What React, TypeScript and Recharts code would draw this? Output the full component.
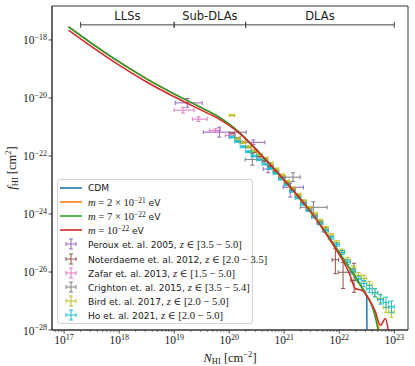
import React from 'react';
import {
  ComposedChart,
  Line,
  Scatter,
  XAxis,
  YAxis,
  ErrorBar,
  ReferenceArea,
  Legend,
  Label,
} from 'recharts';

// all values are log10: [log N_HI, log f]
type Pt = [number, number];
type Err = number | [number, number];
// [log N, log f, dlogN (down, up), dlogf (down, up)]
type DataPt = [number, number, Err, Err];

const cdmCurve: Pt[] = [
  [17.08, -17.55], [17.5, -18.12], [18.0, -18.76], [18.5, -19.34], [19.0, -19.86],
  [19.5, -20.34], [19.8, -20.64], [20.0, -20.9], [20.2, -21.22], [20.4, -21.6],
  [20.6, -22.0], [20.8, -22.41], [21.0, -22.83], [21.2, -23.27], [21.4, -23.73],
  [21.6, -24.23], [21.8, -24.77], [22.0, -25.33], [22.2, -25.91], [22.4, -26.5],
  [22.5, -26.82], [22.51, -30],
];

const m2e21Curve: Pt[] = [
  [17.08, -17.55], [17.5, -18.12], [18.0, -18.76], [18.5, -19.34], [19.0, -19.86],
  [19.5, -20.34], [19.8, -20.64], [20.0, -20.9], [20.2, -21.22], [20.4, -21.6],
  [20.6, -22.0], [20.8, -22.41], [21.0, -22.83], [21.2, -23.27], [21.4, -23.73],
  [21.6, -24.23], [21.8, -24.77], [22.0, -25.33], [22.2, -25.91], [22.4, -26.5],
  [22.5, -26.8], [22.6, -27.16], [22.72, -27.95], [22.78, -28.5],
];

const m7e22Curve: Pt[] = [
  [17.08, -17.55], [17.5, -18.12], [18.0, -18.76], [18.5, -19.34], [19.0, -19.86],
  [19.5, -20.34], [19.8, -20.64], [20.0, -20.9], [20.2, -21.22], [20.4, -21.6],
  [20.6, -22.0], [20.8, -22.41], [21.0, -22.83], [21.2, -23.27], [21.4, -23.73],
  [21.6, -24.23], [21.8, -24.77], [22.0, -25.33], [22.2, -25.91], [22.4, -26.5],
  [22.5, -26.82], [22.6, -27.2], [22.7, -27.95], [22.75, -28.5],
];

const m1e22Curve: Pt[] = [
  [17.08, -17.66], [17.5, -18.23], [18.0, -18.87], [18.5, -19.45], [19.0, -19.96],
  [19.5, -20.43], [19.8, -20.71], [20.0, -20.95], [20.2, -21.24], [20.4, -21.6],
  [20.6, -22.0], [20.8, -22.41], [21.0, -22.83], [21.2, -23.27], [21.4, -23.73],
  [21.6, -24.23], [21.8, -24.8], [22.0, -25.4], [22.13, -25.83], [22.2, -26.12],
  [22.29, -26.57], [22.42, -26.64], [22.53, -26.91], [22.65, -27.33], [22.75, -27.84],
  [22.84, -27.6], [22.9, -28.1], [22.95, -28.6],
];

const peroux2005: DataPt[] = [
  [19.24, -20.17, [0.22, 0.27], 0.15],
  [19.82, -21.18, [0.29, 0.49], 0.17],
  [20.44, -21.53, [0.2, 0.21], 0.08],
  [20.71, -22.45, 0.09, 0.13],
  [21.11, -23.08, [0.13, 0.24], [0.34, 0.14]],
];

const noterdaeme2012: DataPt[] = [
  [20.05, -21.22, 0.05, 0.02], [20.15, -21.38, 0.05, 0.02], [20.25, -21.52, 0.05, 0.02],
  [20.35, -21.7, 0.05, 0.02], [20.45, -21.86, 0.05, 0.02], [20.55, -22.02, 0.05, 0.02],
  [20.65, -22.18, 0.05, 0.02], [20.75, -22.36, 0.05, 0.03], [20.85, -22.54, 0.05, 0.03],
  [20.95, -22.73, 0.05, 0.03], [21.05, -22.93, 0.05, 0.03], [21.15, -23.15, 0.05, 0.03],
  [21.25, -23.38, 0.05, 0.04], [21.35, -23.6, 0.05, 0.04], [21.45, -23.83, 0.05, 0.05],
  [21.55, -24.06, 0.05, 0.05], [21.65, -24.3, 0.05, 0.06], [21.75, -24.56, 0.05, 0.08],
  [21.93, -25.58, 0.06, [0.48, 0.38]],
  [22.07, -26.01, [0.09, 0.13], [0.56, 0.34]],
  [22.27, -26.29, 0.06, [0.41, 0.59]],
];

const zafar2013: DataPt[] = [
  [19.16, -20.42, [0.16, 0.2], 0.1],
  [19.44, -20.73, [0.11, 0.16], 0.08],
  [19.75, -21.12, [0.11, 0.09], 0.06],
  [20.02, -21.3, 0.09, 0.06],
];

const crighton2015: DataPt[] = [
  [20.42, -22.12, [0.13, 0.28], 0.2],
  [21.16, -22.73, [0.14, 0.13], 0.15],
  [21.53, -23.77, [0.24, 0.25], 0.19],
];

const bird2017: DataPt[] = [
  [20.05, -20.6, 0.05, 0.02], [20.15, -21.4, 0.05, 0.03], [20.25, -21.53, 0.05, 0.03],
  [20.35, -21.68, 0.05, 0.03], [20.45, -21.82, 0.05, 0.03], [20.55, -21.95, 0.05, 0.03],
  [20.65, -22.08, 0.05, 0.03], [20.75, -22.25, 0.05, 0.03], [20.85, -22.45, 0.05, 0.03],
  [20.95, -22.65, 0.05, 0.03], [21.05, -22.87, 0.05, 0.03], [21.15, -23.1, 0.05, 0.03],
  [21.25, -23.33, 0.05, 0.03], [21.35, -23.55, 0.05, 0.04], [21.45, -23.78, 0.05, 0.04],
  [21.55, -24.0, 0.05, 0.04], [21.65, -24.23, 0.05, 0.05], [21.75, -24.48, 0.05, 0.05],
  [21.85, -24.73, 0.05, 0.05], [21.95, -24.98, 0.05, 0.06], [22.05, -25.28, 0.05, 0.07],
  [22.15, -25.58, 0.05, 0.08], [22.25, -25.88, 0.05, 0.09], [22.35, -26.12, 0.05, 0.1],
  [22.45, -26.22, 0.05, 0.11], [22.55, -26.45, 0.05, 0.12], [22.65, -26.72, 0.05, 0.14],
  [22.75, -26.92, 0.05, 0.15], [22.85, -27.22, 0.05, 0.17], [22.95, -27.38, 0.05, 0.18],
];

const ho2021: DataPt[] = [
  [20.05, -21.35, 0.05, 0.03], [20.15, -21.5, 0.05, 0.03], [20.25, -21.68, 0.05, 0.03],
  [20.35, -21.85, 0.05, 0.03], [20.45, -22.0, 0.05, 0.03], [20.55, -22.13, 0.05, 0.03],
  [20.65, -22.28, 0.05, 0.03], [20.75, -22.43, 0.05, 0.03], [20.85, -22.6, 0.05, 0.03],
  [20.95, -22.8, 0.05, 0.03], [21.05, -23.0, 0.05, 0.03], [21.15, -23.22, 0.05, 0.03],
  [21.25, -23.45, 0.05, 0.03], [21.35, -23.66, 0.05, 0.04], [21.45, -23.88, 0.05, 0.04],
  [21.55, -24.1, 0.05, 0.04], [21.65, -24.32, 0.05, 0.05], [21.75, -24.57, 0.05, 0.05],
  [21.85, -24.82, 0.05, 0.05], [21.95, -25.06, 0.05, 0.06], [22.05, -25.33, 0.05, 0.07],
  [22.15, -25.66, 0.05, 0.08], [22.25, -25.98, 0.05, 0.09], [22.35, -26.25, 0.05, 0.1],
  [22.45, -26.4, 0.05, 0.11], [22.55, -26.58, 0.05, 0.12], [22.65, -26.72, 0.05, 0.14],
  [22.75, -26.95, 0.05, 0.16], [22.85, -27.05, 0.05, 0.18], [22.95, -27.2, 0.05, 0.2],
];

// absorber classes marked along the top: [name, log N from, log N to]
const absorberClasses: [string, number, number][] = [
  ['LLSs', 17.3, 19.0],
  ['Sub-DLAs', 19.0, 20.3],
  ['DLAs', 20.3, 23.0],
];
const absorberLogF = -17.48;

const xMajorExp = [17, 18, 19, 20, 21, 22, 23];
const yMajorExp = [-28, -26, -24, -22, -20, -18];
const xDomain: [number, number] = [10 ** 16.78, 10 ** 23.25];
const yDomain: [number, number] = [1e-28, 10 ** -16.83];

const serif = '"Liberation Serif", "DejaVu Serif", serif';
const sans = '"DejaVu Sans", sans-serif';
const ink = '#1a1a1a';
const spine = '#333';

const toLine = (pts: Pt[]) => pts.map(([n, f]) => ({ x: 10 ** n, y: 10 ** f }));
const pair = (e: Err): [number, number] => (Array.isArray(e) ? e : [e, e]);
const toPoints = (pts: DataPt[]) =>
  pts.map(([n, f, dn, df]) => {
    const x = 10 ** n;
    const y = 10 ** f;
    const [nl, nh] = pair(dn);
    const [fl, fh] = pair(df);
    return {
      x,
      y,
      ex: [x - 10 ** (n - nl), 10 ** (n + nh) - x],
      ey: [y - 10 ** (f - fl), 10 ** (f + fh) - y],
    };
  });

const xTicks = (() => {
  const t: number[] = xMajorExp.map((e) => 10 ** e);
  for (let e = 16; e <= 23; e++) {
    for (let k = 2; k <= 9; k++) {
      const v = k * 10 ** e;
      if (v > xDomain[0] && v < xDomain[1]) t.push(v);
    }
  }
  return t.sort((a, b) => a - b);
})();
const yTicks = yMajorExp.map((e) => 10 ** e);

const lines = [
  { key: 'cdm', data: cdmCurve, color: '#1f77b4' },
  { key: 'm2e21', data: m2e21Curve, color: '#ff7f0e' },
  { key: 'm7e22', data: m7e22Curve, color: '#2ca02c' },
  { key: 'm1e22', data: m1e22Curve, color: '#d62728' },
];

const datasets = [
  { key: 'peroux', data: peroux2005, color: '#9467bd', name: 'Peroux et. al. 2005, ', z: '[3.5 \u2212 5.0]' },
  { key: 'noterdaeme', data: noterdaeme2012, color: '#8c564b', name: 'Noterdaeme et. al. 2012, ', z: '[2.0 \u2212 3.5]' },
  { key: 'zafar', data: zafar2013, color: '#e377c2', name: 'Zafar et. al. 2013, ', z: '[1.5 \u2212 5.0]' },
  { key: 'crighton', data: crighton2015, color: '#7f7f7f', name: 'Crighton et. al. 2015, ', z: '[3.5 \u2212 5.4]' },
  { key: 'bird', data: bird2017, color: '#bcbd22', name: 'Bird et. al. 2017, ', z: '[2.0 \u2212 5.0]' },
  { key: 'ho', data: ho2021, color: '#17becf', name: 'Ho et. al. 2021, ', z: '[2.0 \u2212 5.0]' },
];

const supStyle: React.CSSProperties = { fontSize: '70%', lineHeight: 0, verticalAlign: '0.45em' };

const massLabel = (mant: string | null, exp: string) => (
  <>
    <span style={{ fontFamily: serif, fontSize: 10.6 }}>
      <i>m</i> = {mant ? `${mant} \u00d7 ` : ''}10<sup style={supStyle}>{exp}</sup>
    </span>
    <span> eV</span>
  </>
);

const lineLabels: React.ReactNode[] = [
  <span>CDM</span>,
  massLabel('2', '\u221221'),
  massLabel('7', '\u221222'),
  massLabel(null, '\u221222'),
];

const XTick = (props: any) => {
  const { x, y, payload } = props;
  const lg = Math.log10(payload.value);
  const major = Math.abs(lg - Math.round(lg)) < 1e-9;
  return (
    <g>
      <line x1={x} x2={x} y1={y} y2={y + (major ? 3.5 : 2)} stroke={spine} strokeWidth={major ? 0.9 : 0.6} />
      {major && (
        <text x={x} y={y + 14} textAnchor="middle" fontFamily={serif} fontSize={11.5} fill={ink}>
          10<tspan dy={-4.5} fontSize={8}>{Math.round(lg)}</tspan>
        </text>
      )}
    </g>
  );
};

const YTick = (props: any) => {
  const { x, y, payload } = props;
  const e = Math.round(Math.log10(payload.value));
  return (
    <g>
      <line x1={x} x2={x - 3.5} y1={y} y2={y} stroke={spine} strokeWidth={0.9} />
      <text x={x - 5} y={y + 4.5} textAnchor="end" fontFamily={serif} fontSize={11.5} fill={ink}>
        10<tspan dy={-4.5} fontSize={8}>{`\u2212${-e}`}</tspan>
      </text>
    </g>
  );
};

const XTitle = (props: any) => {
  const vb = props.viewBox;
  return (
    <text x={vb.x + vb.width / 2} y={vb.y + 32} textAnchor="middle" fontFamily={serif} fontSize={12.5} fill={ink}>
      <tspan fontStyle="italic">N</tspan>
      <tspan fontSize={8.5} dy={2}>HI</tspan>
      <tspan dy={-2}>{'\u00a0[cm'}</tspan>
      <tspan fontSize={8.5} dy={-5}>{'\u22122'}</tspan>
      <tspan dy={5}>]</tspan>
    </text>
  );
};

const YTitle = (props: any) => {
  const vb = props.viewBox;
  const cx = vb.x + 16;
  const cy = vb.y + vb.height / 2;
  return (
    <text x={cx} y={cy} transform={`rotate(-90, ${cx}, ${cy})`} textAnchor="middle" fontFamily={serif} fontSize={12.5} fill={ink}>
      <tspan fontStyle="italic">f</tspan>
      <tspan fontSize={8.5} dy={2}>HI</tspan>
      <tspan dy={-2}>{'\u00a0[cm'}</tspan>
      <tspan fontSize={8.5} dy={-5}>2</tspan>
      <tspan dy={5}>]</tspan>
    </text>
  );
};

const noMarker = () => <g />;

const ClassLabel = (props: any) => (
  <text x={props.cx} y={props.cy - 5} textAnchor="middle" fontFamily={sans} fontSize={11.5} fill={ink}>
    {props.payload.name}
  </text>
);

const CrossIcon = ({ color }: { color: string }) => (
  <g stroke={color} strokeWidth={1}>
    <line x1={8} x2={18} y1={7} y2={7} />
    <line x1={13} x2={13} y1={2} y2={12} />
    <line x1={8} x2={8} y1={5} y2={9} />
    <line x1={18} x2={18} y1={5} y2={9} />
    <line x1={11} x2={15} y1={2} y2={2} />
    <line x1={11} x2={15} y1={12} y2={12} />
  </g>
);

const LegendBox = () => (
  <div
    style={{
      boxSizing: 'border-box',
      width: 196,
      border: '1px solid #d4d4d4',
      borderRadius: 3,
      background: 'rgba(255,255,255,0.85)',
      padding: '1px 0',
      fontFamily: sans,
      fontSize: 9.1,
      color: ink,
      whiteSpace: 'nowrap',
    }}
  >
    {lines.map((l, i) => (
      <div key={l.key} style={{ display: 'flex', alignItems: 'center', height: 14.1 }}>
        <svg width={30} height={14} style={{ flex: 'none' }}>
          <line x1={2} x2={24} y1={7} y2={7} stroke={l.color} strokeWidth={1.6} />
        </svg>
        <span>{lineLabels[i]}</span>
      </div>
    ))}
    {datasets.map((d) => (
      <div key={d.key} style={{ display: 'flex', alignItems: 'center', height: 14.1 }}>
        <svg width={30} height={14} style={{ flex: 'none' }}>
          <CrossIcon color={d.color} />
        </svg>
        <span>
          {d.name}
          <span style={{ fontFamily: serif, fontSize: 10.6 }}>
            <i>z</i> {'\u2208'} {d.z}
          </span>
        </span>
      </div>
    ))}
  </div>
);

const classPoints = absorberClasses.map(([name, lo, hi]) => {
  const x = 10 ** ((lo + hi) / 2);
  return { name, x, y: 10 ** absorberLogF, ex: [x - 10 ** lo, 10 ** hi - x] };
});

export default function App() {
  return (
    <div style={{ position: 'absolute', left: 0, top: 0, width: 415, height: 366, background: '#fff' }}>
      <ComposedChart width={415} height={366} margin={{ top: 6, right: 7, bottom: 0, left: 0 }}>
        <XAxis
          dataKey="x"
          type="number"
          scale="log"
          domain={xDomain}
          allowDataOverflow
          ticks={xTicks}
          interval={0}
          tick={<XTick />}
          tickLine={false}
          tickSize={0}
          tickMargin={0}
          height={36}
          axisLine={{ stroke: spine }}
        >
          <Label content={<XTitle />} />
        </XAxis>
        <YAxis
          dataKey="y"
          type="number"
          scale="log"
          domain={yDomain}
          allowDataOverflow
          ticks={yTicks}
          interval={0}
          tick={<YTick />}
          tickLine={false}
          tickSize={0}
          tickMargin={0}
          width={52}
          axisLine={{ stroke: spine }}
        >
          <Label content={<YTitle />} />
        </YAxis>
        <ReferenceArea
          x1={xDomain[0]}
          x2={xDomain[1]}
          y1={yDomain[0]}
          y2={yDomain[1]}
          fill="none"
          fillOpacity={0}
          stroke={spine}
          strokeWidth={1}
        />
        {datasets.map((d) => (
          <Scatter
            key={d.key}
            data={toPoints(d.data)}
            dataKey="y"
            fill={d.color}
            shape={noMarker}
            isAnimationActive={false}
          >
            <ErrorBar dataKey="ex" direction="x" width={2} stroke={d.color} strokeWidth={1} />
            <ErrorBar dataKey="ey" direction="y" width={2} stroke={d.color} strokeWidth={1} />
          </Scatter>
        ))}
        {lines.map((l) => (
          <Line
            key={l.key}
            data={toLine(l.data)}
            dataKey="y"
            type="monotone"
            stroke={l.color}
            strokeWidth={1.5}
            dot={false}
            activeDot={false}
            isAnimationActive={false}
          />
        ))}
        <Scatter data={classPoints} dataKey="y" shape={<ClassLabel />} isAnimationActive={false}>
          <ErrorBar dataKey="ex" direction="x" width={3} stroke="#444" strokeWidth={1} />
        </Scatter>
        <Legend
          layout="vertical"
          verticalAlign="middle"
          align="center"
          content={<LegendBox />}
          wrapperStyle={{ left: 57, top: 179, width: 196 }}
        />
      </ComposedChart>
    </div>
  );
}
